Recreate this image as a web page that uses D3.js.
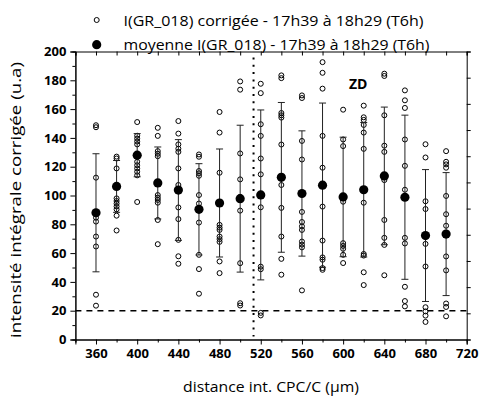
<!DOCTYPE html>
<html><head><meta charset="utf-8">
<script src="https://cdn.jsdelivr.net/npm/d3@7"></script>
<style>body{margin:0;background:#fff}svg{display:block}</style>
</head><body>
<svg id="c" width="482" height="398"></svg>
<script>
const distances = [360,380,400,420,440,460,480,500,520,540,560,580,600,620,640,660,680,700];
const means = [88,106.3,128,108.7,103.8,90.4,94.8,97.8,100.4,112.6,101.4,107.2,99,104,113.6,98.8,72.2,73.2];
const sds = [41,18,15,25,35,31.7,37.5,51,59,52,43.5,57,41.5,46.7,47.8,57,45.8,42.7];
const points = [
  [148.8,147.4,112.4,84.6,81.9,71.5,64.6,31.1,23.5],
  [127,125.7,118.8,98,96.2,94.4,92.4,90.4,86,75.7],
  [151,141.5,139.5,137.5,135.5,123.4,121,118.8,116.5,114,95.5],
  [147,141.4,130.8,129,127.3,100.3,98.5,96.9,95,83,66.2],
  [151.7,143,135.5,132.5,130.3,118.8,107.3,91.7,83.6,69.2,57.8,52.6],
  [128.5,126.9,117,115.4,113.7,100.3,94.4,81.2,58.8,48.9,31.8],
  [158,143.7,115.8,79.6,77.7,76.1,71.5,69.7,67.8,54.2,46.1],
  [179.2,173.5,129.2,111.2,99,89.5,53,25.2,23.6],
  [177.6,171.1,149.5,141.4,125.7,114.7,91.8,50.6,48.8,18.5,16.7],
  [183.4,181.5,157.3,155.7,154.1,135.4,107.3,91.4,71.5,56,45],
  [169.5,167.7,137.9,125,88.6,81.6,78.6,76.1,68,65.9,64,34.1],
  [192.6,185.2,174.2,141.4,119.3,92.3,68.7,57,55.4,49.6,48.4],
  [159.6,138.9,134.3,95.7,66.9,65,63,58.8,53.1],
  [162.4,154.3,152.5,149,143.7,132.4,95,59.4,58.3,46.7,37.8],
  [184.6,183,155.7,134.6,130.3,110.7,83,70.6,65.7,44.6],
  [173,166.1,160.8,138.9,120.6,104,70.6,66.7,36.6,26.7,23],
  [135.6,126.4,96,90.6,66.4,50.7,22.4,19.5,16.6,12.2],
  [130.8,123.4,121.6,119.3,99.7,87,79,57.7,48,25,22.6,16.1]
];
const xTicks = [360,400,440,480,520,560,600,640,680,720];
const yTicks = [0,20,40,60,80,100,120,140,160,180,200];
const legendLabels = ["I(GR_018) corrigée - 17h39 à 18h29 (T6h)","moyenne I(GR_018) - 17h39 à 18h29 (T6h)"];
const thresholdValue = 20;
const zoneBoundary = 513;
const zoneLabel = "ZD";
const xTitle = "distance int. CPC/C (\u03bcm)";
const yTitle = "intensité intégrale corrigée (u.a)";

const svg = d3.select("#c");
const L = 75.4, R = 466.7, T = 51.5, B = 339.5;
const x = d3.scaleLinear().domain([340,720]).range([L,R]);
const y = d3.scaleLinear().domain([0,200]).range([B,T]);
const font = "'Open Sans', sans-serif";

// axes
svg.append("g").attr("transform",`translate(0,${B})`)
  .call(d3.axisBottom(x).tickValues(xTicks).tickSize(5).tickPadding(4).tickFormat(d3.format("d")));
svg.append("g").attr("transform",`translate(0,${B})`)
  .call(d3.axisBottom(x).tickValues(d3.range(340,721,20).filter(v=>!xTicks.includes(v))).tickSize(3).tickFormat(""));
svg.append("g").attr("transform",`translate(${L},0)`)
  .call(d3.axisLeft(y).tickValues(yTicks).tickSize(5).tickPadding(4));
svg.append("g").attr("transform",`translate(${L},0)`)
  .call(d3.axisLeft(y).tickValues(d3.range(10,200,20)).tickSize(3).tickFormat(""));
svg.append("g").attr("transform",`translate(0,${T})`)
  .call(d3.axisBottom(x).tickValues(d3.range(340,721,20)).tickSize(4).tickFormat(""));
const yr = d3.scaleLinear().domain([0,11]).range([B,T]);
svg.append("g").attr("transform",`translate(${R},0)`)
  .call(d3.axisRight(yr).tickValues(d3.range(0,12)).tickSize(4).tickFormat(""));
svg.selectAll(".domain").attr("stroke","#000").attr("stroke-width",1);
svg.selectAll(".tick line").attr("stroke","#000");
svg.selectAll(".tick text").attr("font-family",font).attr("font-weight","bold").attr("font-size","13px").attr("fill","#000");

// reference lines
svg.append("line").attr("x1",L).attr("x2",R).attr("y1",y(thresholdValue)).attr("y2",y(thresholdValue))
  .attr("stroke","#000").attr("stroke-width",1.6).attr("stroke-dasharray","6,5");
svg.append("line").attr("x1",x(zoneBoundary)).attr("x2",x(zoneBoundary)).attr("y1",T+6).attr("y2",B-3)
  .attr("stroke","#000").attr("stroke-width",2).attr("stroke-dasharray","2,5.3");

// raw points
const g = svg.append("g");
distances.forEach((d,i)=>{
  g.selectAll(null).data(points[i]).enter().append("circle")
    .attr("cx",x(d)).attr("cy",v=>y(v)).attr("r",2.5)
    .attr("fill","none").attr("stroke","#000").attr("stroke-width",1);
});
// error bars
const eb = svg.append("g").attr("stroke","#222").attr("stroke-width",1);
distances.forEach((d,i)=>{
  const top = means[i]+sds[i], bot = means[i]-sds[i];
  eb.append("line").attr("x1",x(d)).attr("x2",x(d)).attr("y1",y(top)).attr("y2",y(bot));
  eb.append("line").attr("x1",x(d)-3.5).attr("x2",x(d)+3.5).attr("y1",y(top)).attr("y2",y(top));
  eb.append("line").attr("x1",x(d)-3.5).attr("x2",x(d)+3.5).attr("y1",y(bot)).attr("y2",y(bot));
});
// means
svg.append("g").selectAll("circle").data(distances).enter().append("circle")
  .attr("cx",d=>x(d)).attr("cy",(d,i)=>y(means[i])).attr("r",4.6).attr("fill","#000");

// ZD label
svg.append("text").attr("x",349).attr("y",88.5).text(zoneLabel)
  .attr("font-family",font).attr("font-weight","bold").attr("font-size","14px");

// legend
svg.append("circle").attr("cx",96.7).attr("cy",20).attr("r",2.5).attr("fill","none").attr("stroke","#000").attr("stroke-width",1);
svg.append("circle").attr("cx",96.7).attr("cy",44.7).attr("r",4.6).attr("fill","#000");
svg.append("text").attr("x",123.5).attr("y",25.5).text(legendLabels[0])
  .attr("font-family",font).attr("font-size","15px").attr("textLength",300).attr("lengthAdjust","spacingAndGlyphs");
svg.append("text").attr("x",123.5).attr("y",50).text(legendLabels[1])
  .attr("font-family",font).attr("font-size","15px").attr("textLength",306).attr("lengthAdjust","spacingAndGlyphs");

// axis titles
svg.append("text").attr("x",271).attr("y",392).attr("text-anchor","middle").text(xTitle)
  .attr("font-family",font).attr("font-size","15px").attr("textLength",176).attr("lengthAdjust","spacingAndGlyphs");
svg.append("text").attr("transform","translate(21,200) rotate(-90)").attr("text-anchor","middle").text(yTitle)
  .attr("font-family",font).attr("font-size","15px").attr("textLength",276).attr("lengthAdjust","spacingAndGlyphs");
</script>
</body></html>
